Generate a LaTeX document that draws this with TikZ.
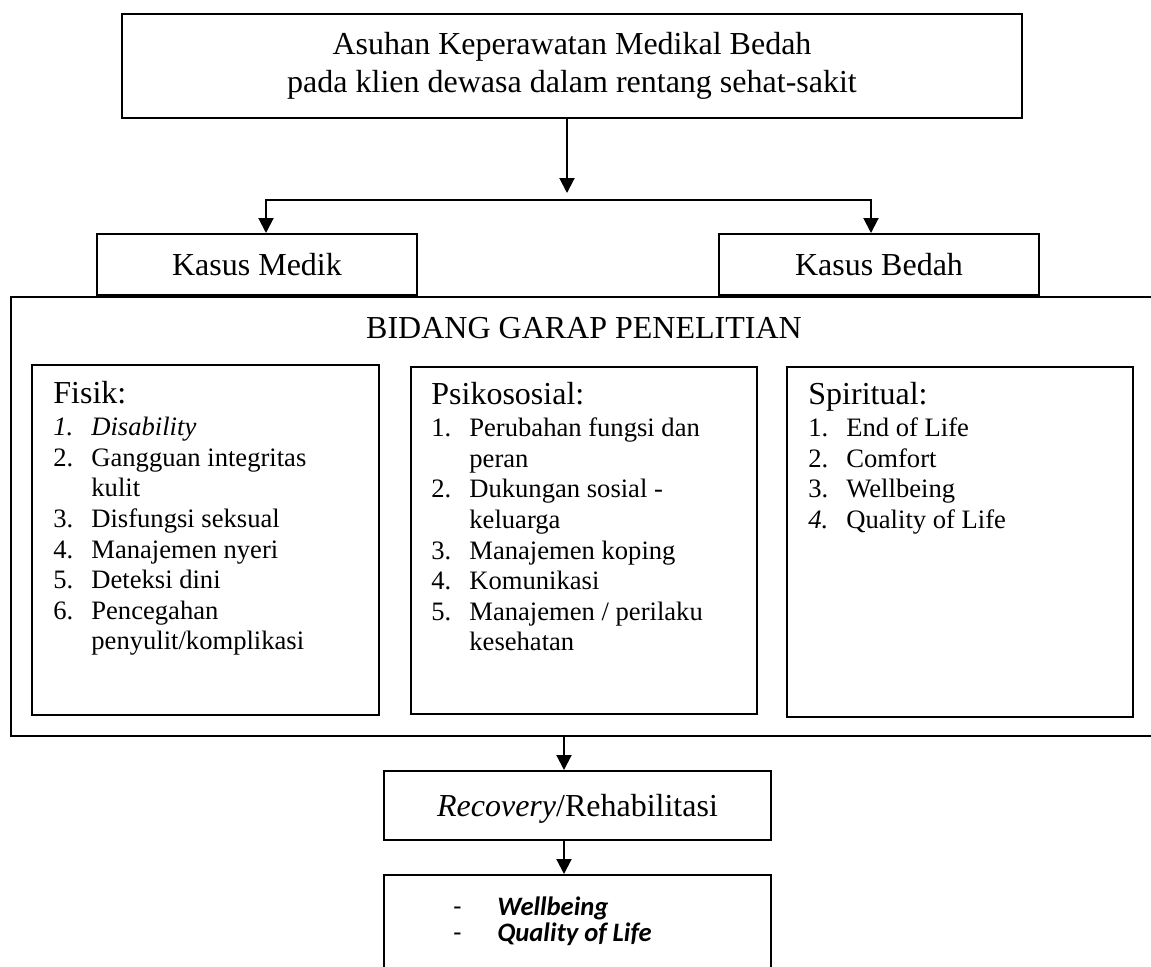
\documentclass[tikz,border=0pt]{standalone}
\usepackage{fontspec}
\setmainfont{Liberation Serif}
\newfontfamily\calibri{Carlito}
\usetikzlibrary{arrows.meta}

\newcommand{\butir}[2]{\makebox[19pt][l]{#1}#2}
\newcommand{\lanjut}[1]{\hspace*{19pt}#1}

\begin{document}
\begin{tikzpicture}[x=0.5pt, y=-0.5pt,
    kotak/.style = {draw, rectangle, line width=1pt, inner sep=0pt, font=\fontsize{16}{18}\selectfont},
    daftar/.style = {anchor=north west, inner sep=0pt, align=left, font=\fontsize{13.3}{15.3}\selectfont},
    panah/.style = {-{Triangle[length=7.5pt,width=7.5pt]}, line width=1pt}]
    \useasboundingbox (0,0) rectangle (1151,966);
    \clip (0,0) rectangle (1151,966);

    \node[kotak, minimum width=450pt, minimum height=52pt, align=center, font=\fontsize{16}{19}\selectfont] (judul) at (572,66)
        {Asuhan Keperawatan Medikal Bedah\\pada klien dewasa dalam rentang sehat-sakit};
    \node[kotak, minimum width=160pt, minimum height=30.5pt] (medik) at (257,264.5) {Kasus Medik};
    \node[kotak, minimum width=160pt, minimum height=30.5pt] (bedah) at (879,264.5) {Kasus Bedah};

    % bidang garap
    \node[kotak, minimum width=579.5pt, minimum height=219.25pt] (garap) at (590.5,516.25) {};
    \node[anchor=base, font=\fontsize{16}{18}\selectfont] (bidang) at (584,338) {BIDANG GARAP PENELITIAN};

    \node[kotak, minimum width=173.5pt, minimum height=175pt] (fisik) at (205.5,540) {};
    \node[kotak, minimum width=173pt, minimum height=173.5pt] (psiko) at (584,540.5) {};
    \node[kotak, minimum width=173pt, minimum height=175pt] (spirit) at (960,542) {};

    \node[daftar] (isifisik) at (53,381) {{\fontsize{16}{18}\selectfont Fisik:}\\[0.7pt]
        \butir{\textit{1.}}{\textit{Disability}}\\
        \butir{2.}{Gangguan integritas}\\
        \lanjut{kulit}\\
        \butir{3.}{Disfungsi seksual}\\
        \butir{4.}{Manajemen nyeri}\\
        \butir{5.}{Deteksi dini}\\
        \butir{6.}{Pencegahan}\\
        \lanjut{penyulit/komplikasi}};
    \node[daftar] (isipsiko) at (431,382) {{\fontsize{16}{18}\selectfont Psikososial:}\\[0.7pt]
        \butir{1.}{Perubahan fungsi dan}\\
        \lanjut{peran}\\
        \butir{2.}{Dukungan sosial -}\\
        \lanjut{keluarga}\\
        \butir{3.}{Manajemen koping}\\
        \butir{4.}{Komunikasi}\\
        \butir{5.}{Manajemen / perilaku}\\
        \lanjut{kesehatan}};
    \node[daftar] (isispirit) at (808,382) {{\fontsize{16}{18}\selectfont Spiritual:}\\[0.7pt]
        \butir{1.}{End of Life}\\
        \butir{2.}{Comfort}\\
        \butir{3.}{Wellbeing}\\
        \butir{\textit{4.}}{Quality of Life}};

    % hasil
    \node[kotak, minimum width=193.5pt, minimum height=34.5pt, text depth=0pt] (recovery) at (577.5,805.5)
        {\textit{Recovery}/Rehabilitasi};
    \node[kotak, minimum width=193.5pt, minimum height=62.5pt] (hasil) at (577.5,937.5) {};
    \node[anchor=north west, inner sep=0pt, align=left, font=\calibri\bfseries\itshape\fontsize{13.3}{13.3}\selectfont]
        (isihasil) at (453,896) {\makebox[22pt][l]{\upshape\mdseries -}Wellbeing\\
        \makebox[22pt][l]{\upshape\mdseries -}Quality of Life};

    \coordinate (cabang) at (567,193);
    \coordinate (kiri) at (266,200);
    \coordinate (kanan) at (871,200);
    \coordinate (tengah) at (564,0);

    \draw[panah] (judul.south -| cabang) -- (cabang);
    \draw[{Triangle[length=7.5pt,width=7.5pt]}-{Triangle[length=7.5pt,width=7.5pt]}, line width=1pt]
        (kiri |- medik.north) -- (kiri) -- (kanan) -- (kanan |- bedah.north);
    \draw[panah] (garap.south -| tengah) -- (recovery.north -| tengah);
    \draw[panah] (recovery.south -| tengah) -- (hasil.north -| tengah);
\end{tikzpicture}
\end{document}
